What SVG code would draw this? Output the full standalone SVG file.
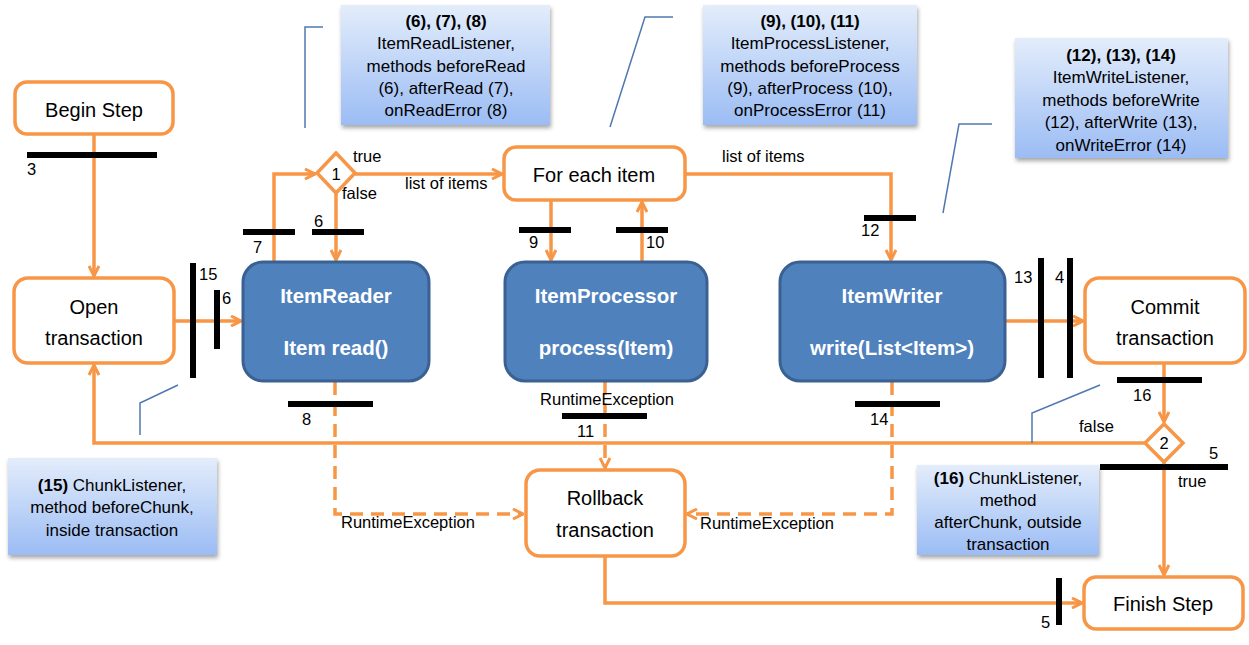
<svg xmlns="http://www.w3.org/2000/svg" width="1249" height="645" viewBox="0 0 1249 645">
<style>
text{font-family:"Liberation Sans",Arial,sans-serif;fill:#000}
.box{fill:#fff;stroke:#f79646;stroke-width:3.5}
.blue{fill:#4f81bd;stroke:#3a6192;stroke-width:3}
.bt{font-size:20.5px;font-weight:bold;fill:#fff;text-anchor:middle}
.nt{font-size:20px;text-anchor:middle}
.con{fill:none;stroke:#f79646;stroke-width:3.5}
.dash{stroke-dasharray:13 8}
.bar{fill:#000}
.lbl{font-size:16.5px}
.ann{fill:url(#g);filter:url(#sh)}
.at{font-size:17px;text-anchor:middle}
.b{font-weight:bold}
.call{fill:none;stroke:#4f78b0;stroke-width:1.5}
</style>
<defs>
<linearGradient id="g" x1="0" y1="0" x2="0" y2="1">
<stop offset="0" stop-color="#e3edfb"/>
<stop offset="1" stop-color="#9bbcf4"/>
</linearGradient>
<filter id="sh" x="-10%" y="-10%" width="125%" height="130%">
<feDropShadow dx="1" dy="3" stdDeviation="2" flood-color="#000" flood-opacity="0.35"/>
</filter>
<marker id="a" viewBox="0 0 12 12" refX="11" refY="6" markerWidth="12" markerHeight="12" markerUnits="userSpaceOnUse" orient="auto">
<path d="M1,1 L11,6 L1,11" fill="none" stroke="#f79646" stroke-width="3"/>
</marker>
</defs>

<g id="connectors">
<path class="con" d="M94,134 V276" marker-end="url(#a)"/>
<path class="con" d="M174,321 H241" marker-end="url(#a)"/>
<path class="con" d="M274,262 V174 H315" marker-end="url(#a)"/>
<path class="con" d="M336,193 V260" marker-end="url(#a)"/>
<path class="con" d="M355,174 H502" marker-end="url(#a)"/>
<path class="con" d="M551,200 V260" marker-end="url(#a)"/>
<path class="con" d="M642,262 V202" marker-end="url(#a)"/>
<path class="con" d="M685,174 H891 V260" marker-end="url(#a)"/>
<path class="con" d="M1005,321 H1083" marker-end="url(#a)"/>
<path class="con" d="M1164,363 V422" marker-end="url(#a)"/>
<path class="con" d="M1145,443 H94 V365" marker-end="url(#a)"/>
<path class="con" d="M1164,462 V575" marker-end="url(#a)"/>
<path class="con" d="M605,556 V603 H1082" marker-end="url(#a)"/>
<path class="con dash" d="M335,382 V514 H523" marker-end="url(#a)"/>
<path class="con dash" d="M605,382 V468" marker-end="url(#a)"/>
<path class="con dash" d="M892,382 V514 H687" marker-end="url(#a)"/>
</g>

<g id="bars">
<rect class="bar" x="27" y="152" width="130" height="6"/>
<rect class="bar" x="243" y="229" width="52" height="6"/>
<rect class="bar" x="312" y="229" width="52" height="6"/>
<rect class="bar" x="519" y="227" width="52" height="6"/>
<rect class="bar" x="616" y="227" width="52" height="6"/>
<rect class="bar" x="864" y="215" width="52" height="6"/>
<rect class="bar" x="190" y="263" width="6" height="115"/>
<rect class="bar" x="214" y="290" width="6" height="59"/>
<rect class="bar" x="288" y="401" width="85" height="6"/>
<rect class="bar" x="562" y="413" width="85" height="6"/>
<rect class="bar" x="855" y="401" width="85" height="6"/>
<rect class="bar" x="1038" y="258" width="6" height="120"/>
<rect class="bar" x="1067" y="258" width="6" height="120"/>
<rect class="bar" x="1117" y="377" width="85" height="6"/>
<rect class="bar" x="1100" y="464" width="128" height="6"/>
<rect class="bar" x="1056" y="578" width="6" height="47"/>
</g>

<g id="labels" class="lbl">
<text x="27" y="175">3</text>
<text x="253" y="253">7</text>
<text x="314" y="227">6</text>
<text x="529" y="248">9</text>
<text x="646" y="248">10</text>
<text x="861" y="236">12</text>
<text x="199" y="280">15</text>
<text x="222" y="304">6</text>
<text x="302" y="425">8</text>
<text x="577" y="437">11</text>
<text x="870" y="425">14</text>
<text x="1014" y="283">13</text>
<text x="1055" y="283">4</text>
<text x="1133" y="401">16</text>
<text x="1079" y="432">false</text>
<text x="1209" y="459">5</text>
<text x="1178" y="487">true</text>
<text x="1041" y="628">5</text>
<text x="353" y="162">true</text>
<text x="342" y="199">false</text>
<text x="405" y="189">list of items</text>
<text x="722" y="162">list of items</text>
<text x="341" y="528">RuntimeException</text>
<text x="700" y="529">RuntimeException</text>
<text x="607" y="405" text-anchor="middle">RuntimeException</text>
</g>

<g id="begin-step">
<rect class="box" x="15" y="82" width="158" height="52" rx="12"/>
<text class="nt" x="94" y="117">Begin Step</text>
</g>
<g id="open-transaction">
<rect class="box" x="14" y="278" width="160" height="85" rx="14"/>
<text class="nt" x="94" y="314">Open</text>
<text class="nt" x="94" y="345">transaction</text>
</g>
<g id="decision-1">
<polygon points="336,153 355,173 336,193 317,173" fill="#fff" stroke="#f79646" stroke-width="3.5"/>
<text class="lbl" x="336" y="180" text-anchor="middle">1</text>
</g>
<g id="for-each-item">
<rect class="box" x="504" y="147" width="181" height="53" rx="12"/>
<text class="nt" x="594" y="182">For each item</text>
</g>
<g id="item-reader">
<rect class="blue" x="243" y="262" width="186" height="119" rx="20"/>
<text class="bt" x="336" y="303">ItemReader</text>
<text class="bt" x="336" y="355">Item read()</text>
</g>
<g id="item-processor">
<rect class="blue" x="505" y="262" width="202" height="119" rx="20"/>
<text class="bt" x="606" y="303">ItemProcessor</text>
<text class="bt" x="606" y="355">process(Item)</text>
</g>
<g id="item-writer">
<rect class="blue" x="780" y="262" width="225" height="119" rx="20"/>
<text class="bt" x="892" y="303">ItemWriter</text>
<text class="bt" x="892" y="355">write(List&lt;Item&gt;)</text>
</g>
<g id="commit-transaction">
<rect class="box" x="1085" y="278" width="160" height="85" rx="14"/>
<text class="nt" x="1165" y="314">Commit</text>
<text class="nt" x="1165" y="345">transaction</text>
</g>
<g id="decision-2">
<polygon points="1164,424 1183,443 1164,462 1145,443" fill="#fff" stroke="#f79646" stroke-width="3.5"/>
<text class="lbl" x="1164" y="449" text-anchor="middle">2</text>
</g>
<g id="rollback-transaction">
<rect class="box" x="526" y="470" width="159" height="86" rx="14"/>
<text class="nt" x="605" y="505">Rollback</text>
<text class="nt" x="605" y="537">transaction</text>
</g>
<g id="finish-step">
<rect class="box" x="1084" y="577" width="159" height="52" rx="12"/>
<text class="nt" x="1163" y="611">Finish Step</text>
</g>

<g id="note-read">
<rect class="ann" x="341" y="5" width="209" height="120"/>
<text class="at b" x="446" y="27">(6), (7), (8)</text>
<text class="at" x="446" y="49">ItemReadListener,</text>
<text class="at" x="446" y="72">methods beforeRead</text>
<text class="at" x="446" y="94">(6), afterRead (7),</text>
<text class="at" x="446" y="116">onReadError (8)</text>
<path class="call" d="M305,128 V27 H323"/>
</g>
<g id="note-process">
<rect class="ann" x="703" y="5" width="214" height="120"/>
<text class="at b" x="810" y="27">(9), (10), (11)</text>
<text class="at" x="810" y="49">ItemProcessListener,</text>
<text class="at" x="810" y="72">methods beforeProcess</text>
<text class="at" x="810" y="94">(9), afterProcess (10),</text>
<text class="at" x="810" y="116">onProcessError (11)</text>
<path class="call" d="M610,127 L645,17 H673"/>
</g>
<g id="note-write">
<rect class="ann" x="1015" y="38" width="213" height="120"/>
<text class="at b" x="1121" y="61">(12), (13), (14)</text>
<text class="at" x="1121" y="83">ItemWriteListener,</text>
<text class="at" x="1121" y="106">methods beforeWrite</text>
<text class="at" x="1121" y="128">(12), afterWrite (13),</text>
<text class="at" x="1121" y="151">onWriteError (14)</text>
<path class="call" d="M943,213 L959,124 H992"/>
</g>
<g id="note-before-chunk">
<rect class="ann" x="8" y="458" width="209" height="97"/>
<text class="at" x="112" y="491"><tspan class="b">(15)</tspan> ChunkListener,</text>
<text class="at" x="112" y="513">method beforeChunk,</text>
<text class="at" x="112" y="536">inside transaction</text>
<path class="call" d="M140,435 V403 L178,385"/>
</g>
<g id="note-after-chunk">
<rect class="ann" x="917" y="465" width="182" height="90"/>
<text class="at" x="1008" y="484"><tspan class="b">(16)</tspan> ChunkListener,</text>
<text class="at" x="1008" y="506">method</text>
<text class="at" x="1008" y="528">afterChunk, outside</text>
<text class="at" x="1008" y="550">transaction</text>
<path class="call" d="M1032,443 V413 L1100,385"/>
</g>
</svg>
